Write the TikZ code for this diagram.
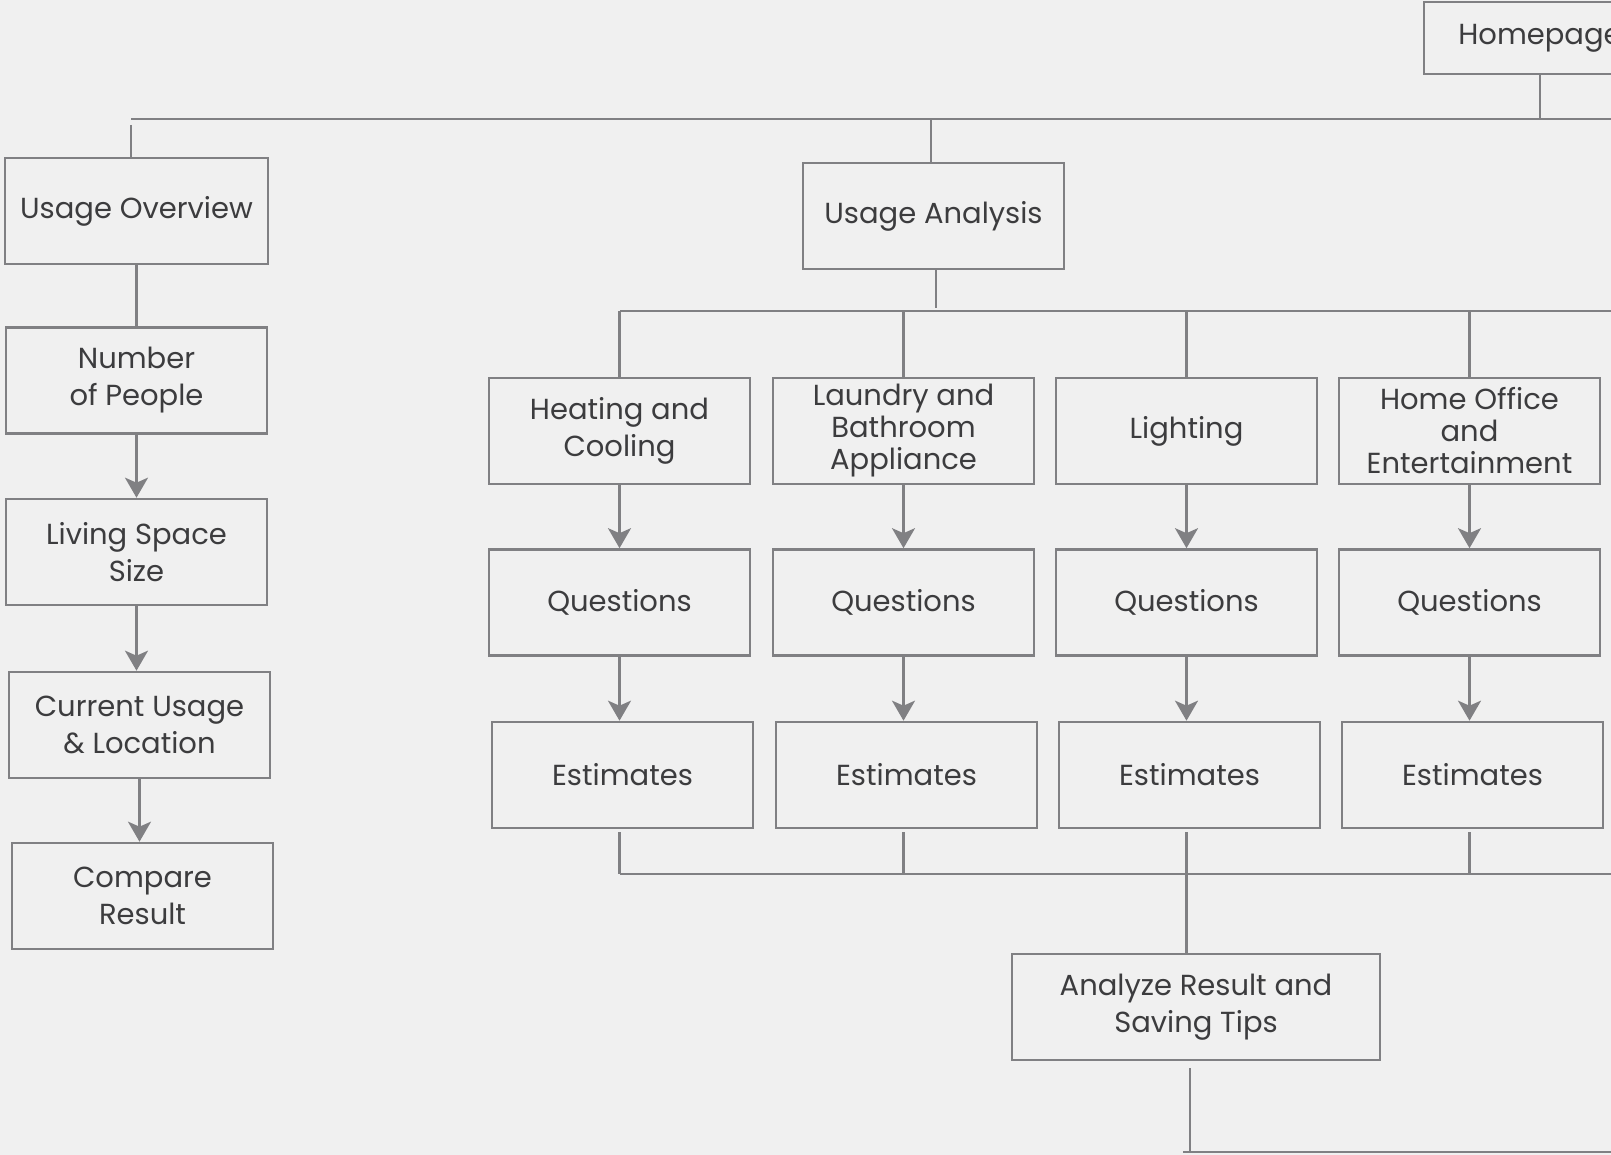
\documentclass[tikz,border=0pt]{standalone}
\usepackage{fontspec}
\setmainfont{Poppins}
\usetikzlibrary{arrows.meta}

\definecolor{paper}{RGB}{240,240,240}
\definecolor{wire}{RGB}{128,128,131}
\definecolor{ink}{RGB}{60,60,62}

\begin{document}
\begin{tikzpicture}[x=1pt,y=-1pt]
		\tikzset{box/.style = {draw=wire, line width=2.6pt, text=ink, align=center,
				minimum width=261pt, minimum height=106pt, inner sep=0pt,
				font=\fontsize{29}{37}\selectfont}}
		\tikzset{tight/.style = {box, font=\fontsize{29}{32}\selectfont}}
		\tikzset{line/.style = {draw=wire, line width=2.6pt}}
		\tikzset{edge/.style = {line, -{Stealth[length=20pt,width=23pt,inset=5pt]}}}
		
		\fill[paper] (0,0) rectangle (1611,1155);
		\useasboundingbox (0,0) rectangle (1611,1155);
		\clip (0,0) rectangle (1611,1155);
		
		% top level
		\node[box, minimum width=232pt, minimum height=72pt] (home) at (1540, 38) {Homepage};
		\coordinate (busA) at (131, 119);
		\coordinate (busAend) at (1620, 119);
		
		% left column
		\node[box, minimum width=263pt] (overview) at (136.5, 211) {Usage Overview};
		\node[box] (people)   at (136.5, 380.5) {Number\\of People};
		\node[box] (space)    at (136.5, 552)   {Living Space\\Size};
		\node[box] (current)  at (139.5, 725)   {Current Usage\\\& Location};
		\node[box] (compare)  at (142.5, 896)   {Compare\\Result};
		
		% analysis branch
		\node[box] (analysis) at (933.5, 216) {Usage Analysis};
		\coordinate (busB) at (620, 311);
		\coordinate (busBend) at (1620, 311);
		
		\node[box]   (heat)   at ( 619.5, 431) {Heating and\\Cooling};
		\node[tight] (laundry) at ( 903.5, 431) {Laundry and\\Bathroom\\Appliance};
		\node[box]   (light)  at (1186.5, 431) {Lighting};
		\node[tight] (office) at (1469.5, 431) {Home Office\\and\\Entertainment};
		
		\node[box] (q1) at ( 619.5, 602.5) {Questions};
		\node[box] (q2) at ( 903.5, 602.5) {Questions};
		\node[box] (q3) at (1186.5, 602.5) {Questions};
		\node[box] (q4) at (1469.5, 602.5) {Questions};
		
		\node[box] (e1) at ( 622.5, 775) {Estimates};
		\node[box] (e2) at ( 906.5, 775) {Estimates};
		\node[box] (e3) at (1189.5, 775) {Estimates};
		\node[box] (e4) at (1472.5, 775) {Estimates};
		\coordinate (busC) at (620, 874);
		\coordinate (busCend) at (1620, 874);
		
		\node[box, minimum width=368pt] (result) at (1196, 1007) {Analyze Result and\\Saving Tips};
		\coordinate (tail) at (1190, 1068);
		\coordinate (busD) at (1183, 1152);
		\coordinate (busDend) at (1620, 1152);
		
		% buses
		\draw[line] (busA) -- (busAend);
		\draw[line] (busB) -- (busBend);
		\draw[line] (busC) -- (busCend);
		\draw[line] (busD) -- (busDend);
		
		% tree links
		\draw[line] (home) -- (home |- busA);
		\draw[line] ([yshift=-6pt]busA) -- (busA |- overview.north);
		\draw[line] (analysis.north -| 931,0) -- (busA -| 931,0);
		\draw[line] (overview) -- (people);
		\draw[edge] (people) -- (space);
		\draw[edge] (space) -- (current.north -| space);
		\draw[edge] (current) -- (compare.north -| current);
		
		\draw[line] (analysis.south -| 936,0) -- ([yshift=3pt]busB -| 936,0);
		\foreach \c/\q/\e in {heat/q1/e1, laundry/q2/e2, light/q3/e3, office/q4/e4} {
			\draw[line] (\c) -- (\c |- busB);
			\draw[edge] (\c) -- (\q);
			\draw[edge] (\q) -- (\q |- \e.north);
			\draw[line] ([yshift=-3pt]\e.south -| \q) -- (\q |- busC);
		}
		
		\draw[line] (result.north -| light) -- (light |- busC);
		\draw[line] (tail) -- (tail |- busD);
\end{tikzpicture}
\end{document}
